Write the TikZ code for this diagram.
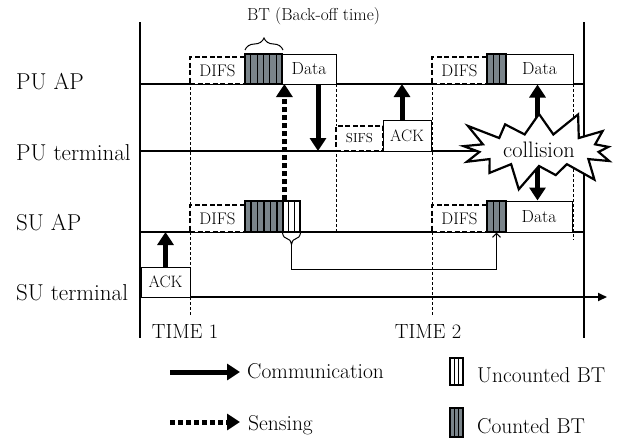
\documentclass[tikz,border=0pt]{standalone}
\usepackage{fontspec}
\usetikzlibrary{arrows.meta,shapes.symbols,decorations.pathreplacing,calc}
\definecolor{btgray}{RGB}{122,132,138}
\newcommand\fs[1]{\fontsize{#1}{#1}\selectfont}
\newcommand\stripes[2]{\pgfmathtruncatemacro\nlast{#2-1}\foreach \k in {1,...,\nlast}{\draw[line width=1.2pt] ($(#1.north west)!\k/#2!(#1.north east)$) -- ($(#1.south west)!\k/#2!(#1.south east)$);}}
\begin{document}
\begin{tikzpicture}[x=1pt,y=-1pt,
  tline/.style={line width=2pt},
  guide/.style={line width=0.9pt,dash pattern=on 3pt off 2pt},
  difsbox/.style={draw,line width=2.2pt,dash pattern=on 5pt off 2.5pt,fill=white,inner sep=0pt,font=\fs{16.8}},
  plainbox/.style={draw,line width=1pt,fill=white,inner sep=0pt,font=\fs{17.5}},
  cbt/.style={draw,line width=1.2pt,fill=btgray,inner sep=0pt},
  ubt/.style={draw,line width=1.2pt,fill=white,inner sep=0pt},
  comm/.style={line width=5pt,-{Triangle[length=13pt,width=16pt]}},
  sens/.style={line width=5pt,dash pattern=on 5pt off 3pt,-{Triangle[length=13pt,width=16pt]}},
  rowlabel/.style={anchor=base west,inner sep=0pt,font=\fs{23}},
  timelabel/.style={anchor=base,inner sep=0pt,font=\fs{20.5}},
  legtext/.style={anchor=base west,inner sep=0pt,font=\fs{21.5}},
]
\useasboundingbox (0,0) rectangle (631,442);
% coordinates
\coordinate (puapL) at (140,84); \coordinate (puapR) at (584,84);
\coordinate (putL) at (140,151); \coordinate (putR) at (538,151);
\coordinate (suapL) at (140,232); \coordinate (suapR) at (584,232);
\coordinate (sutL) at (140,297); \coordinate (sutR) at (607,297);
\coordinate (axTL) at (140,22); \coordinate (axBL) at (140,338);
\coordinate (axTR) at (584,22); \coordinate (axBR) at (584,338);
\coordinate (g1T) at (190,57); \coordinate (g1B) at (190,315);
\coordinate (g2T) at (432,57); \coordinate (g2B) at (432,315);
\coordinate (g3T) at (336,84); \coordinate (g3B) at (336,232);
\coordinate (g4T) at (573,84); \coordinate (g4B) at (573,240);
\coordinate (loopY) at (0,269);
% guides
\draw[guide] (g1T) -- (g1B);
\draw[guide] (g2T) -- (g2B);
\draw[guide] (g3T) -- (g3B);
\draw[guide] (g4T) -- (g4B);
% axes and timelines
\draw[tline] (axTL) -- (axBL);
\draw[tline] (axTR) -- (axBR);
\draw[tline] (puapL) -- (puapR);
\draw[tline] (putL) -- (putR);
\draw[tline] (suapL) -- (suapR);
\draw[tline,-{Triangle[length=9pt,width=8pt]}] (sutL) -- (sutR);
% row labels
\node[rowlabel] (lpuap) at (16,89) {PU AP};
\node[rowlabel] (lput) at (16,160) {PU terminal};
\node[rowlabel] (lsuap) at (16,230) {SU AP};
\node[rowlabel] (lsut) at (16,300) {SU terminal};
% PU AP boxes
\node[difsbox,minimum width=55pt,minimum height=27pt] (difs1) at (217.5,70.5) {DIFS};
\node[cbt,minimum width=37pt,minimum height=30pt] (btp1) at (263.5,69) {};
\stripes{btp1}{6}
\node[plainbox,minimum width=54pt,minimum height=30pt] (data1) at (309,69) {Data};
\node[difsbox,minimum width=55pt,minimum height=27pt] (difs2) at (459.5,70.5) {DIFS};
\node[cbt,minimum width=19pt,minimum height=30pt] (btp2) at (496.5,69) {};
\stripes{btp2}{3}
\node[plainbox,minimum width=67pt,minimum height=30pt] (data2) at (539.5,69) {Data};
% brace and BT label
\draw[line width=1pt,decorate,decoration={brace,amplitude=12pt}] (245,50) -- (283,50);
\node[inner sep=0pt,font=\fs{17.3}] (btlabel) at (313.5,16) {BT (Back-off time)};
% PU terminal boxes
\node[difsbox,font=\fs{13},minimum width=47pt,minimum height=25pt] (sifs) at (359.5,138.5) {SIFS};
\node[plainbox,font=\fs{16.5},minimum width=48pt,minimum height=31pt] (ack1) at (407,135.5) {ACK};
% SU AP boxes
\node[difsbox,minimum width=55pt,minimum height=27pt] (difs3) at (217.5,218.5) {DIFS};
\node[cbt,minimum width=38pt,minimum height=31pt] (bts1) at (264,216.5) {};
\stripes{bts1}{6}
\node[ubt,minimum width=17pt,minimum height=31pt] (btu) at (291.5,216.5) {};
\stripes{btu}{3}
\node[difsbox,minimum width=55pt,minimum height=27pt] (difs4) at (459.5,218.5) {DIFS};
\node[cbt,minimum width=19pt,minimum height=31pt] (bts2) at (496.5,216.5) {};
\stripes{bts2}{3}
\node[plainbox,minimum width=66pt,minimum height=31pt] (data3) at (539,216.5) {Data};
% SU terminal box
\node[plainbox,font=\fs{16.5},minimum width=49pt,minimum height=30pt] (ack2) at (165.5,282) {ACK};
% sensing loop under uncounted BT
\draw[line width=1pt,decorate,decoration={brace,amplitude=12pt}] (btu.south east) -- (btu.south west);
\coordinate (tip) at ($(btu.south)+(0,12)$);
\draw[line width=1pt,-{Straight Barb[length=4pt,width=8pt]}] (tip) -- (tip |- loopY) -| (bts2.south);
% arrows
\draw[comm] ([xshift=9pt]data1.south) -- ([xshift=9pt]data1.south |- putL);
\draw[comm] ([xshift=-5pt]ack1.north) -- ([xshift=-5pt]ack1.north |- puapL);
\draw[comm] (ack2.north) -- (ack2.north |- suapL);
\draw[sens] ([xshift=2pt]btu.north west) -- ([xshift=2pt]btu.north west |- puapL);
\draw[line width=5pt,{Triangle[length=13pt,width=16pt]}-{Triangle[length=13pt,width=16pt]}] ([xshift=-2pt]data2.south) -- ([xshift=-2pt]data2.south |- data3.north);
% collision
\node[starburst,draw,line width=2.2pt,fill=white,starburst points=13,starburst point height=28pt,minimum width=176pt,minimum height=88pt,inner sep=0pt,font=\fs{22.4}] (coll) at (539,150) {collision};
% time labels
\node[timelabel] (t1) at (185,338) {TIME 1};
\node[timelabel] (t2) at (428,338) {TIME 2};
% legend
\coordinate (lc1) at (170,372); \coordinate (lc2) at (240,372);
\coordinate (ls1) at (170,422); \coordinate (ls2) at (240,422);
\draw[comm] (lc1) -- (lc2);
\draw[sens] (ls1) -- (ls2);
\node[legtext] (lcomm) at (247,378) {Communication};
\node[legtext] (lsens) at (248,430) {Sensing};
\node[ubt,minimum width=13pt,minimum height=27pt] (ulg) at (456.5,371.5) {};
\stripes{ulg}{3}
\node[cbt,minimum width=13pt,minimum height=29pt] (clg) at (456.5,422.5) {};
\stripes{clg}{3}
\node[legtext] (lunc) at (477,382) {Uncounted BT};
\node[legtext] (lcnt) at (477,433) {Counted BT};
\end{tikzpicture}
\end{document}
